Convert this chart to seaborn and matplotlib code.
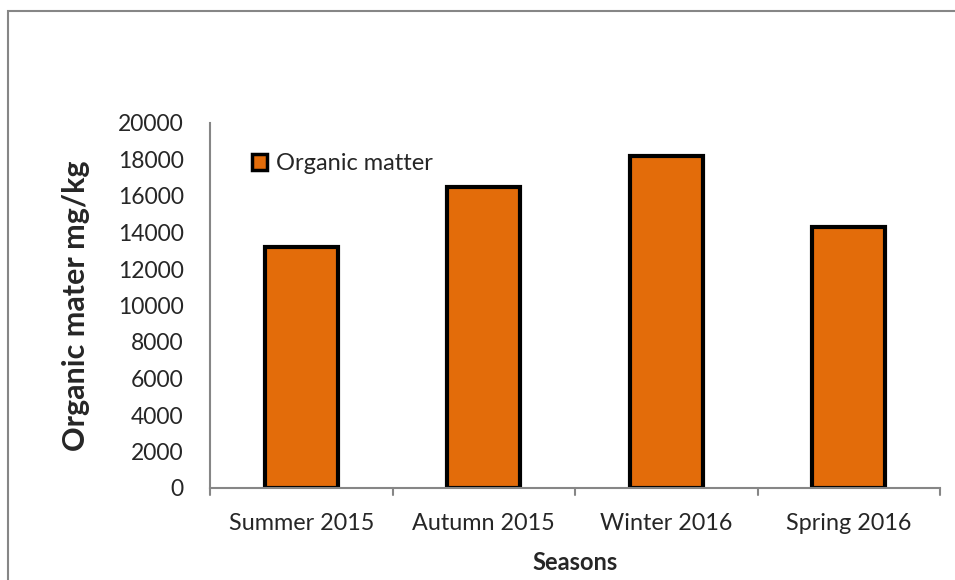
import pandas as pd
import matplotlib
matplotlib.use("Agg")
import matplotlib.pyplot as plt
import seaborn as sns
from matplotlib.patches import Rectangle, Patch

sns.set_style("white")
plt.rcParams["font.family"] = ["Lato", "DejaVu Sans"]

seasons = ["Summer 2015", "Autumn 2015", "Winter 2016", "Spring 2016"]
organic_matter = [13200, 16500, 18200, 14300]
y_ticks = list(range(0, 20001, 2000))

df = pd.DataFrame({"season": seasons, "value": organic_matter})

BAR = "#E36C0A"
GREY = "#868686"

fig = plt.figure(figsize=(9.55, 5.8), dpi=100)
ax = fig.add_axes([210 / 955, 1 - 488 / 580, 730 / 955, 365 / 580])

sns.barplot(data=df, x="season", y="value", color=BAR, width=0.4,
            edgecolor="black", linewidth=3, saturation=1, ax=ax)

ax.set_ylim(0, 20000)
ax.set_xlim(-0.5, len(seasons) - 0.5)
ax.set_yticks(y_ticks)
ax.set_yticklabels([str(t) for t in y_ticks], fontsize=16.5)
ax.tick_params(axis="y", direction="out", length=7, width=1.5, color=GREY, pad=12)

# x ticks sit on category boundaries
ax.set_xticks(range(len(seasons)))
ax.set_xticklabels(seasons, fontsize=16.8)
ax.tick_params(axis="x", length=0, pad=18)
for b in [i - 0.5 for i in range(len(seasons) + 1)]:
    ax.plot([b, b], [0, -0.018], transform=ax.get_xaxis_transform(),
            color=GREY, lw=1.5, clip_on=False)

for side in ["top", "right"]:
    ax.spines[side].set_visible(False)
for side in ["left", "bottom"]:
    ax.spines[side].set_color(GREY)
    ax.spines[side].set_linewidth(1.5)

ax.set_ylabel("Organic mater mg/kg", fontsize=22, fontweight="bold", labelpad=20)
ax.set_xlabel("Seasons", fontsize=17, fontweight="bold", labelpad=12)

handle = Patch(facecolor=BAR, edgecolor="black", linewidth=2.5)
ax.legend([handle], ["Organic matter"], loc="upper left", frameon=False,
          fontsize=17, bbox_to_anchor=(0.028, 0.975), handlelength=0.65,
          handleheight=0.65, handletextpad=0.4)

# outer chart border (only top and left visible)
fig.patches.append(Rectangle((8 / 955, -0.1), 1.2, 0.1 + (1 - 11 / 580),
                             transform=fig.transFigure, fill=False,
                             edgecolor=GREY, linewidth=1.5))

fig.savefig("out.png", dpi=100)
